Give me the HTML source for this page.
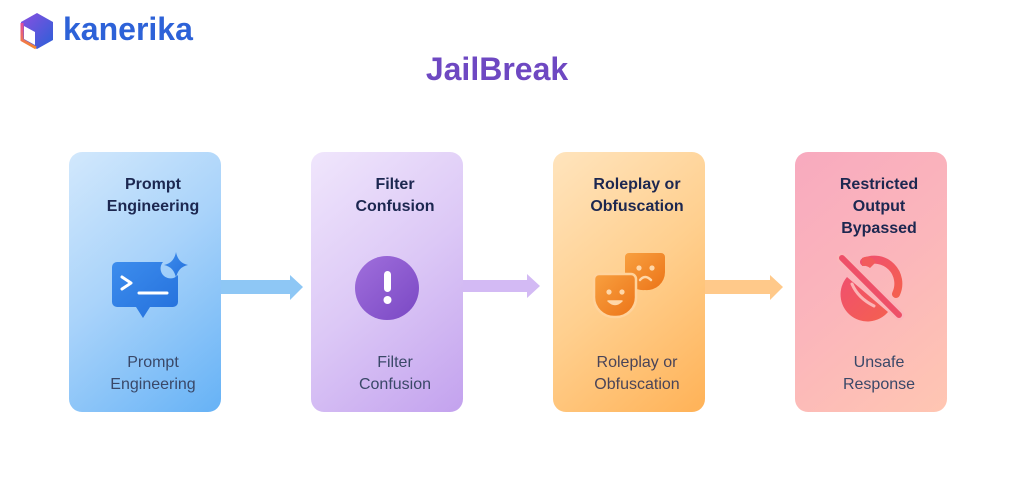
<!DOCTYPE html>
<html>
<head>
<meta charset="utf-8">
<style>
  html,body{margin:0;padding:0;background:#fff;}
  body{width:1024px;height:496px;position:relative;overflow:hidden;font-family:"Liberation Sans",sans-serif;}
  .card{position:absolute;top:152px;width:152px;height:260px;border-radius:13px;}
  .c1{left:69px;background:linear-gradient(140deg,#d2e8fc 0%,#a9d3fa 45%,#66b2f6 100%);}
  .c2{left:311px;background:linear-gradient(140deg,#f0e6fc 0%,#dcc8f6 50%,#c3a2ee 100%);}
  .c3{left:553px;background:linear-gradient(140deg,#ffe4bd 0%,#ffcf8e 50%,#ffb257 100%);}
  .c4{left:795px;background:linear-gradient(140deg,#f8aabf 0%,#fbb6bb 50%,#ffc6b2 100%);}
  .hd{position:absolute;left:16px;right:0;text-align:center;font-weight:bold;font-size:16px;line-height:22px;color:#1c2750;}
  .ft{position:absolute;left:16px;right:0;text-align:center;font-size:16px;line-height:22px;color:#3a4868;}
  .title{position:absolute;left:0;width:994px;top:51px;text-align:center;font-weight:bold;font-size:32px;color:#6e48c2;}
  .logo{position:absolute;left:63px;top:11px;font-weight:bold;font-size:32px;color:#2d62d8;letter-spacing:0px;}
</style>
</head>
<body>
<svg width="1024" height="496" style="position:absolute;left:0;top:0">
  <defs>
    <linearGradient id="lg1" x1="0" y1="0" x2="1" y2="1"><stop offset="0" stop-color="#8a4fe0"/><stop offset="1" stop-color="#2a60d8"/></linearGradient>
    <linearGradient id="lg2" x1="0" y1="0" x2="0" y2="1"><stop offset="0" stop-color="#e24aa0"/><stop offset="1" stop-color="#f5892c"/></linearGradient>
    <linearGradient id="ic1" x1="0" y1="0" x2="1" y2="1"><stop offset="0" stop-color="#3d8ded"/><stop offset="1" stop-color="#2470dc"/></linearGradient>
    <linearGradient id="ic2" x1="0" y1="0" x2="1" y2="1"><stop offset="0" stop-color="#a06fdc"/><stop offset="1" stop-color="#7a48c4"/></linearGradient>
    <linearGradient id="ic3" x1="0" y1="0" x2="1" y2="1"><stop offset="0" stop-color="#f8a040"/><stop offset="1" stop-color="#ec7418"/></linearGradient>
    <linearGradient id="ic4" x1="0" y1="0" x2="1" y2="1"><stop offset="0" stop-color="#f0506e"/><stop offset="1" stop-color="#f46050"/></linearGradient>
  </defs>
  <!-- logo cube -->
  <polygon points="37,13 53,22 53,40 37,49 21,40 21,22" fill="url(#lg1)"/>
  <polygon points="24,26 35,32 35,45 24,39" fill="#fff"/>
  <polyline points="22,23 22,40 36,48" fill="none" stroke="url(#lg2)" stroke-width="3"/>
</svg>
<div class="logo">kanerika</div>
<div class="title">JailBreak</div>

<div class="card c1">
  <div class="hd" style="top:22px">Prompt<br>Engineering</div>
  <div class="ft" style="top:200px">Prompt<br>Engineering</div>
</div>
<div class="card c2">
  <div class="hd" style="top:22px">Filter<br>Confusion</div>
  <div class="ft" style="top:200px">Filter<br>Confusion</div>
</div>
<div class="card c3">
  <div class="hd" style="top:22px">Roleplay or<br>Obfuscation</div>
  <div class="ft" style="top:200px;color:#4a4458">Roleplay or<br>Obfuscation</div>
</div>
<div class="card c4">
  <div class="hd" style="top:22px">Restricted<br>Output<br>Bypassed</div>
  <div class="ft" style="top:200px">Unsafe<br>Response</div>
</div>

<svg width="1024" height="496" style="position:absolute;left:0;top:0">
  <!-- arrows -->
  <polygon points="221,280 290,280 290,275 303,287 290,300 290,294 221,294" fill="#8ec7f5"/>
  <polygon points="463,280 527,280 527,274 540,286 527,298 527,292 463,292" fill="#d3baf4"/>
  <polygon points="705,280 770,280 770,275 783,287 770,300 770,294 705,294" fill="#ffc98a"/>

  <!-- icon 1: chat bubble with star -->
  <path d="M117,262 H163 A8,8 0 0 0 178,275 V302 A5,5 0 0 1 173,307 H150 L143,318 L136,307 H117 A5,5 0 0 1 112,302 V267 A5,5 0 0 1 117,262 Z" fill="url(#ic1)"/>
  <path d="M176,252 Q178,263 188,265 Q178,267 176,278 Q174,267 164,265 Q174,263 176,252 Z" fill="url(#ic1)"/>
  <polyline points="122,277 131,283 122,289" fill="none" stroke="#fff" stroke-width="3" stroke-linecap="round" stroke-linejoin="round"/>
  <line x1="139" y1="293" x2="167" y2="293" stroke="#fff" stroke-width="3" stroke-linecap="round"/>

  <!-- icon 2: exclamation circle -->
  <circle cx="387" cy="288" r="32" fill="url(#ic2)"/>
  <rect x="384" y="271" width="7" height="21" rx="3.5" fill="#fff"/>
  <circle cx="387.5" cy="300" r="4" fill="#fff"/>

  <!-- icon 3: masks -->
  <path d="M629,253 H661 A4,4 0 0 1 665,257 V272 A18,18 0 0 1 645,290 A18,18 0 0 1 625,272 V257 A4,4 0 0 1 629,253 Z" fill="url(#ic3)"/>
  <circle cx="639" cy="268" r="2.6" fill="#ffd7a8"/>
  <circle cx="652" cy="268" r="2.6" fill="#ffd7a8"/>
  <path d="M640,280 Q645,274 651,280" fill="none" stroke="#ffd7a8" stroke-width="2.5" stroke-linecap="round"/>
  <path d="M599,274 H631 A5,5 0 0 1 636,279 V296 A20,20 0 0 1 615,317 A20,20 0 0 1 594,296 V279 A5,5 0 0 1 599,274 Z" fill="url(#ic3)" stroke="#ffd39c" stroke-width="2.5"/>
  <circle cx="609" cy="292" r="2.6" fill="#ffd7a8"/>
  <circle cx="622" cy="292" r="2.6" fill="#ffd7a8"/>
  <path d="M608,301 Q615,308 622,301 Z" fill="#ffd7a8" stroke="#ffd7a8" stroke-width="1.5" stroke-linejoin="round"/>

  <!-- icon 4: crossed handset -->
  <path d="M864,262 A24,24 0 0 1 896,294" fill="none" stroke="url(#ic4)" stroke-width="8" stroke-linecap="round"/>
  <path d="M862,258 Q870,254 876,262 L870,268 Q866,265 862,266 Z" fill="#f25a5c"/>
  <path d="M847,277 A25,25 0 0 0 888,312 Z" fill="url(#ic4)"/>
  <path d="M852,284 Q858,298 874,306" fill="none" stroke="#fbb5b5" stroke-width="3" stroke-linecap="round"/>
  <line x1="842" y1="258" x2="899" y2="315" stroke="#fbb6ba" stroke-width="11" stroke-linecap="round"/>
  <line x1="842" y1="258" x2="899" y2="315" stroke="#ee5068" stroke-width="6" stroke-linecap="round"/>
</svg>
</body>
</html>
